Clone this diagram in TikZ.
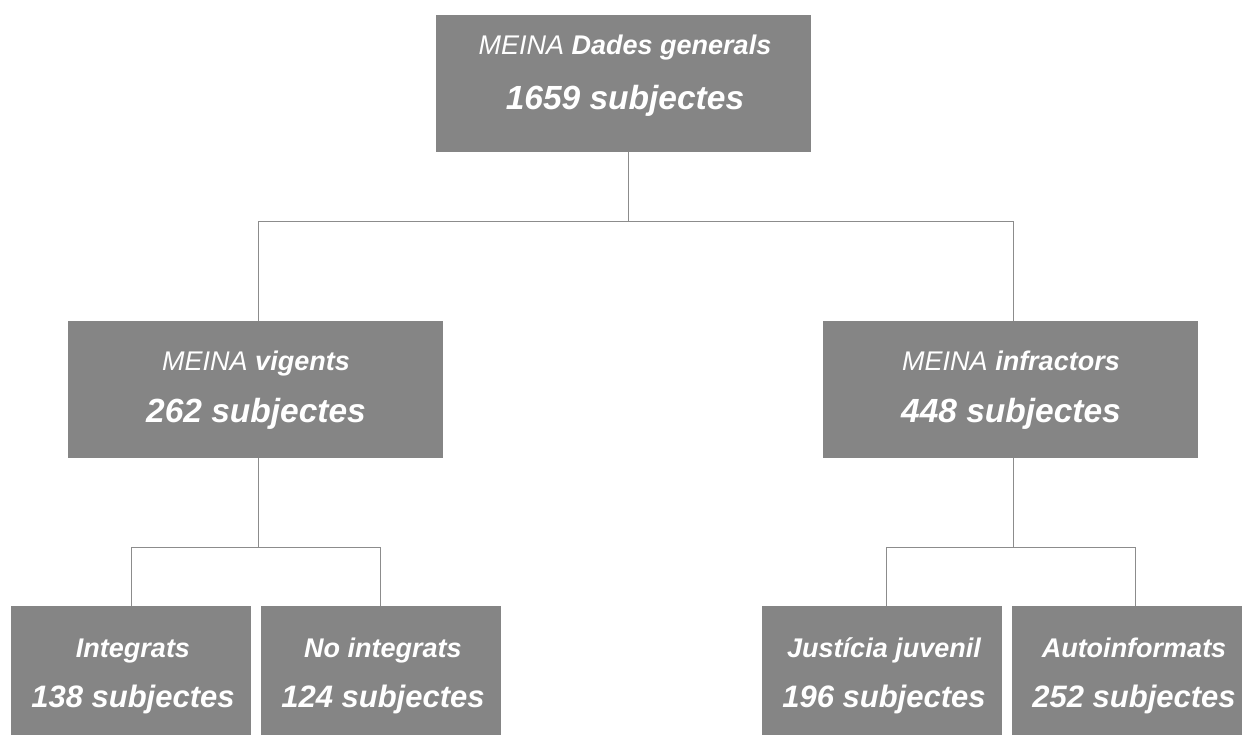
\documentclass[tikz,border=0pt]{standalone}
\usepackage{fontspec}
\setmainfont{Liberation Sans}
\definecolor{boxgray}{HTML}{858585}
\definecolor{linegray}{HTML}{8C8C8C}
\begin{document}
\begin{tikzpicture}[x=1pt,y=-1pt,
  box/.style={rectangle, fill=boxgray, draw=none, minimum width=375pt, minimum height=137pt, inner sep=0pt},
  sbox/.style={rectangle, fill=boxgray, draw=none, minimum width=240pt, minimum height=137pt, inner sep=0pt},
  conn/.style={draw=linegray, line width=1pt},
  lineA/.style={anchor=base, text=white, inner sep=0pt, font=\fontsize{27}{27}\selectfont\bfseries\itshape},
  lineB/.style={anchor=base, text=white, inner sep=0pt, font=\fontsize{33.5}{33.5}\selectfont\bfseries\itshape},
  lineC/.style={anchor=base, text=white, inner sep=0pt, font=\fontsize{31}{31}\selectfont\bfseries\itshape},
  meina/.style={}]
\useasboundingbox (0,0) rectangle (1242,735);
% boxes
\node[box] (top) at (623.5,83.5) {};
\node[box] (vig) at (255,389.5) {};
\node[box] (inf) at (1010.5,389.5) {};
\node[sbox] (int) at (131,674.5) {};
\node[sbox] (noint) at (381,674.5) {};
\node[sbox] (jus) at (882,674.5) {};
\node[sbox] (aut) at (1132,674.5) {};
% texts
\node[lineA] (topA) at (625,55) {\textmd{MEINA} Dades generals};
\node[lineB] (topB) at (625,110) {1659 subjectes};
\node[lineA] (vigA) at (256,370) {\textmd{MEINA} vigents};
\node[lineB] (vigB) at (256,422) {262 subjectes};
\node[lineA] (infA) at (1011,370) {\textmd{MEINA} infractors};
\node[lineB] (infB) at (1011,422) {448 subjectes};
\node[lineA] (intA) at (133,657) {Integrats};
\node[lineC] (intB) at (133,707) {138 subjectes};
\node[lineA] (nointA) at (383,657) {No integrats};
\node[lineC] (nointB) at (383,707) {124 subjectes};
\node[lineA] (jusA) at (884,657) {Justícia juvenil};
\node[lineC] (jusB) at (884,707) {196 subjectes};
\node[lineA] (autA) at (1134,657) {Autoinformats};
\node[lineC] (autB) at (1134,707) {252 subjectes};
% junctions
\coordinate (j0) at (628,222);
\coordinate (jL) at (258,222);
\coordinate (jR) at (1013,222);
\coordinate (kL) at (131,547);
\coordinate (kR) at (380,547);
\coordinate (mL) at (886,547);
\coordinate (mR) at (1135,547);
% connectors
\draw[conn] (top.south -| j0) -- (j0);
\draw[conn] (vig.north -| jL) -- (jL) -- (jR) -- (inf.north -| jR);
\draw[conn] (vig.south -| jL) -- (jL |- kL);
\draw[conn] (int.north -| kL) -- (kL) -- (kR) -- (noint.north -| kR);
\draw[conn] (inf.south -| jR) -- (jR |- mL);
\draw[conn] (jus.north -| mL) -- (mL) -- (mR) -- (aut.north -| mR);
\end{tikzpicture}
\end{document}
